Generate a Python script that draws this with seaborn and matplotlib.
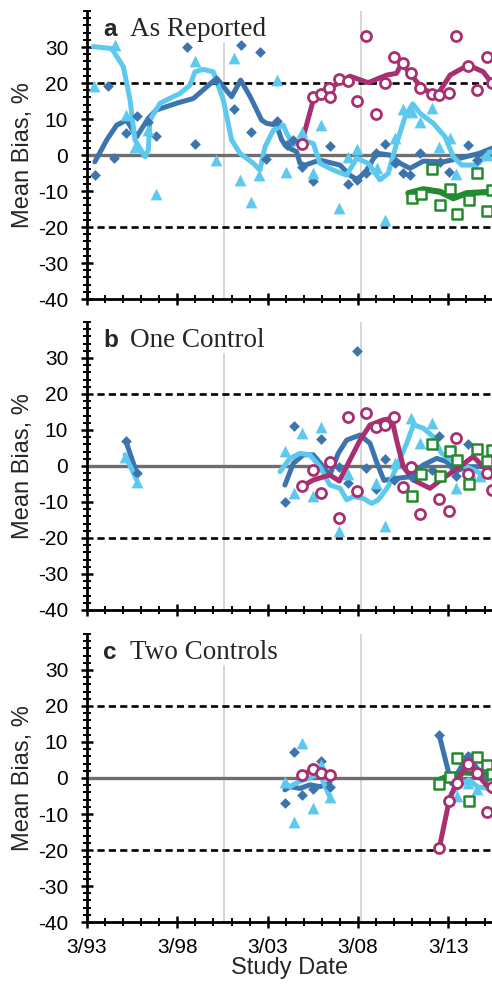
import matplotlib
matplotlib.use("Agg")
import matplotlib.pyplot as plt
import seaborn as sns
from matplotlib.ticker import MultipleLocator, FixedLocator

# ---------------- data (decimal years, mean bias %) ----------------
# Panel a: As Reported
A_db_x = [1993.61, 1994.35, 1994.66, 1995.32, 1995.92, 1996.56, 1996.99, 1998.72, 1999.14, 2000.30,
          2001.30, 2001.67, 2002.23, 2002.74, 2003.07, 2003.66, 2004.22, 2004.58, 2005.05, 2005.69,
          2006.61, 2007.63, 2008.13, 2008.61, 2009.16, 2009.66, 2010.21, 2010.67, 2011.04, 2011.59,
          2012.70, 2013.22, 2014.27, 2014.73]
A_db_y = [-5.6, 19.2, -0.9, 6.1, 10.9, 9.3, 5.3, 30.1, 3.2, 20.8,
          12.7, 30.7, 6.3, 28.7, -1.2, 9.4, 2.8, 4.3, -3.2, -7.2,
          2.5, -8.1, -6.9, -4.9, 0.5, 3.0, -2.3, -5.1, -5.6, 0.5,
          -1.9, -4.6, 2.8, -1.4]
A_dbl_x = [1993.6, 1994.26, 1994.81, 1995.36, 1995.92, 1996.56, 1997.0, 1998.2, 1999.05, 2000.34,
           2001.17, 2001.67, 2002.2, 2002.83, 2003.11, 2003.66, 2003.94, 2004.22, 2004.77, 2004.95,
           2005.23, 2006.06, 2007.17, 2007.72, 2008.13, 2008.64, 2009.2, 2009.93, 2010.5, 2011.04,
           2011.78, 2012.88, 2013.8, 2014.9, 2015.58]
A_dbl_y = [-1.9, 4.2, 8.3, 9.7, 5.1, 10.2, 12.5, 14.5, 15.7, 21.3,
           16.2, 20.8, 16.2, 9.7, 8.8, 8.3, 4.2, 2.3, 0.9, -2.3,
           -2.8, -1.4, -2.8, -5.6, -6.9, -4.2, 0.5, 0.0, -2.3, -3.7,
           -1.7, -1.9, -0.9, 0.5, 1.9]
A_lb_x = [1993.55, 1994.72, 1995.32, 1995.82, 1996.56, 1996.99, 1999.14, 2000.30, 2001.30, 2001.64,
          2002.23, 2002.70, 2003.66, 2004.18, 2005.05, 2005.69, 2006.10, 2007.13, 2007.63, 2008.13,
          2009.20, 2009.66, 2010.21, 2010.67, 2011.13, 2011.59, 2012.24, 2012.66, 2013.25, 2013.59,
          2015.29]
A_lb_y = [19.2, 30.6, 11.1, 2.3, 6.9, -10.9, 26.2, -1.4, 27.0, -6.9,
          -13.1, -5.6, 20.8, -4.6, 6.5, -5.1, 8.3, -14.8, -0.5, 1.6,
          -3.7, -18.1, 4.6, 12.7, 12.0, 9.3, 13.0, 2.3, 4.6, -5.3,
          0.0]
A_lbl_x = [1993.52, 1994.53, 1995.18, 1995.55, 1995.82, 1996.38, 1996.56, 1996.65, 1997.21, 1998.31,
           1998.87, 1999.14, 1999.6, 2000.16, 2000.71, 2001.17, 2001.63, 2002.37, 2002.74, 2003.02,
           2003.48, 2004.03, 2004.22, 2004.58, 2005.05, 2005.69, 2006.06, 2006.8, 2007.54, 2008.09,
           2008.73, 2009.38, 2009.84, 2010.3, 2010.77, 2011.19, 2011.6, 2012.33, 2012.98, 2013.44,
           2013.9, 2014.73, 2015.47]
A_lbl_y = [30.1, 29.6, 24.5, 15.3, 4.2, -0.5, 1.4, 9.7, 14.4, 17.1,
           19.4, 23.1, 23.8, 23.1, 15.3, 4.2, 0.5, -2.3, -4.2, 2.3,
           6.9, 8.3, 6.0, 2.8, 4.2, 3.2, -2.3, -4.2, -5.6, -0.9,
           -2.3, -6.9, -5.1, 3.2, 10.6, 14.2, 11.6, 8.8, 5.1, -0.5,
           -2.8, -2.8, 0.9]
A_mg_x = [2005.05, 2005.69, 2006.10, 2006.58, 2006.61, 2007.13, 2007.63, 2008.13, 2008.61, 2009.16,
          2009.66, 2010.17, 2010.67, 2011.10, 2011.59, 2012.24, 2012.66, 2013.22, 2013.59, 2014.27,
          2014.73, 2015.29, 2015.6]
A_mg_y = [3.1, 16.0, 16.9, 18.5, 16.2, 21.0, 20.6, 15.0, 33.1, 11.3,
          19.9, 27.3, 25.6, 22.7, 18.7, 16.9, 16.7, 17.3, 33.1, 24.8,
          18.2, 27.3, 20.0]
A_mgl_x = [2005.14, 2005.69, 2006.43, 2007.06, 2007.72, 2008.73, 2009.75, 2010.30, 2010.58, 2011.04,
           2011.78, 2012.61, 2013.26, 2014.27, 2015.1, 2015.58]
A_mgl_y = [5.1, 15.3, 18.1, 19.9, 21.9, 20.1, 22.2, 22.7, 25.5, 22.7,
           18.1, 17.1, 22.2, 25.0, 23.1, 19.9]
A_gr_x = [2011.13, 2011.63, 2012.24, 2012.70, 2013.25, 2013.63, 2014.31, 2014.73, 2015.29, 2015.6]
A_gr_y = [-11.8, -10.9, -3.9, -13.9, -9.4, -16.4, -12.5, -4.9, -15.5, -9.7]
A_grl_x = [2010.95, 2011.78, 2012.70, 2013.44, 2014.18, 2015.58]
A_grl_y = [-10.6, -9.5, -10.2, -12.0, -10.6, -10.2]

# Panel b: One Control
B_db_x = [1995.32, 1995.92, 2004.12, 2004.62, 2006.10, 2007.13, 2007.63, 2008.13, 2008.61, 2009.16,
          2009.66, 2010.17, 2011.13, 2012.24, 2012.66, 2013.59, 2014.27]
B_db_y = [6.9, -2.0, -9.9, 11.1, 7.5, -0.2, -4.8, 31.8, -0.6, -6.4,
          1.9, -3.9, -3.0, -1.1, 8.3, -2.8, 6.1]
B_dbl1_x = [1995.32, 1995.92]
B_dbl1_y = [6.9, -2.0]
B_dbl2_x = [2004.12, 2004.58, 2005.14, 2005.69, 2006.24, 2006.61, 2007.07, 2007.54, 2008.28, 2008.83,
            2009.2, 2009.6, 2010.2, 2011.04, 2011.78, 2012.52, 2013.07, 2013.53, 2014.18, 2015.58]
B_dbl2_y = [-5.3, 0.7, 3.1, 3.1, -0.2, -2.5, 3.5, 7.2, 8.6, 6.3,
            1.0, -4.0, -3.5, -3.0, 0.3, 2.1, 1.2, -1.6, -0.2, -0.2]
B_lb_x = [1995.27, 1995.92, 2004.12, 2004.62, 2005.05, 2005.69, 2006.10, 2007.13, 2007.63, 2009.16,
          2009.66, 2010.21, 2011.10, 2011.59, 2012.24, 2013.59, 2014.36, 2014.9]
B_lb_y = [2.6, -4.5, 4.2, -7.6, 9.1, -8.3, 10.7, -18.2, -2.2, -4.6,
          -16.6, 0.7, 13.4, 6.3, 12.0, -6.0, -1.6, -2.8]
B_lbl1_x = [1995.27, 1995.92]
B_lbl1_y = [3.1, -3.9]
B_lbl2_x = [2003.85, 2004.4, 2004.95, 2005.5, 2006.06, 2006.61, 2007.17, 2007.54, 2007.9, 2008.46,
            2008.92, 2009.29, 2009.84, 2010.30, 2010.86, 2011.23, 2011.78, 2012.33, 2012.79, 2013.44,
            2014.36, 2015.1, 2015.58]
B_lbl2_y = [-1.6, 2.1, 3.5, 3.1, -0.2, -5.3, -6.2, -9.4, -8.5, -9.0,
            -10.4, -9.4, -5.7, -0.2, 6.3, 11.4, 10.5, 8.1, 3.5, 1.2,
            -0.6, -2.5, -3.4]
B_mg_x = [2005.05, 2005.69, 2006.10, 2006.61, 2007.13, 2007.63, 2008.13, 2008.61, 2009.16, 2009.66,
          2010.17, 2010.67, 2011.10, 2011.59, 2012.66, 2013.22, 2013.59, 2014.27, 2015.29, 2015.6]
B_mg_y = [-5.6, -1.1, -7.4, 1.2, -14.5, 13.5, -6.9, 14.6, 10.9, 11.4,
          13.5, -5.9, -0.2, -13.4, -9.3, -12.4, 7.9, -2.2, -2.0, -6.7]
B_mgl_x = [2005.05, 2005.69, 2006.61, 2007.13, 2007.72, 2008.28, 2008.83, 2009.57, 2010.03, 2010.3,
           2010.67, 2011.23, 2012.15, 2012.88, 2013.8, 2014.54, 2015.1, 2015.58]
B_mgl_y = [-5.7, -3.9, -2.5, -4.2, 1.7, 7.2, 11.4, 12.8, 13.2, 7.2,
           -0.2, -3.9, -6.2, -3.4, -0.2, 2.6, -0.2, -2.0]
B_gr_x = [2011.13, 2011.63, 2012.24, 2012.70, 2013.25, 2013.63, 2014.31, 2014.73, 2015.29, 2015.6]
B_gr_y = [-8.3, -2.2, 6.0, -2.8, 4.2, 1.7, -5.0, 4.6, 1.4, 4.4]

# Panel c: Two Controls
C_db_x = [2004.12, 2004.62, 2005.05, 2005.69, 2006.10, 2006.61, 2012.66, 2014.27, 2015.29]
C_db_y = [-7.0, 7.3, -4.7, -3.1, 4.8, -2.4, 11.9, 6.1, 0.4]
C_dbl1_x = [2004.12, 2004.4, 2004.95, 2005.5, 2006.06, 2006.61]
C_dbl1_y = [-3.3, -2.4, -2.9, -1.9, -2.4, -1.4]
C_dbl2_x = [2012.66, 2013.33, 2014.27, 2014.9, 2015.58]
C_dbl2_y = [11.9, -1.5, 6.4, 1.5, 0.0]
C_lb_x = [2004.12, 2004.62, 2005.05, 2005.69, 2006.10, 2006.61, 2013.63, 2014.27, 2014.73]
C_lb_y = [-1.0, -12.1, 9.8, -8.4, 3.6, -5.2, -5.0, -1.5, -3.0]
C_lbl1_x = [2004.12, 2004.4, 2004.9, 2005.5, 2006.06, 2006.35, 2006.61]
C_lbl1_y = [-1.4, -2.4, -1.0, 0.0, 1.3, -2.4, -5.2]
C_lbl2_x = [2013.3, 2013.8, 2014.3, 2014.8, 2015.58]
C_lbl2_y = [-4.5, -2.0, -0.5, -2.5, -3.0]
C_mg_x = [2005.05, 2005.69, 2006.10, 2006.61, 2012.66, 2013.22, 2013.63, 2014.27, 2014.73, 2015.29, 2015.6]
C_mg_y = [0.8, 2.4, 1.3, 0.8, -19.5, -6.3, -1.3, 3.8, 1.3, -9.4, -2.4]
C_mgl1_x = [2005.05, 2005.69, 2006.10, 2006.61]
C_mgl1_y = [0.8, 2.4, 1.3, 0.8]
C_mgl2_x = [2012.66, 2013.22, 2013.63, 2014.27, 2014.73, 2015.58]
C_mgl2_y = [-19.5, -6.1, -1.0, 4.1, 1.3, -3.8]
C_gr_x = [2012.66, 2013.25, 2013.63, 2014.31, 2014.73, 2015.29, 2015.6]
C_gr_y = [-1.7, 0.4, 5.5, -6.3, 5.9, 3.6, 1.0]
C_grl_x = [2012.6, 2013.2, 2014.0, 2015.58]
C_grl_y = [-0.5, 0.8, 1.4, 1.0]

panel_letters = ["a", "b", "c"]
panel_titles = ["As Reported", "One Control", "Two Controls"]
xtick_pos = [1993.167, 1998.167, 2003.167, 2008.167, 2013.167]
xtick_labels = ["3/93", "3/98", "3/03", "3/08", "3/13"]
vlines_x = [2000.75, 2008.33]

# ---------------- style ----------------
sns.set_style("ticks")
plt.rcParams['font.family'] = ['Liberation Sans', 'DejaVu Sans']

C_DB = "#3c74ad"
C_LB = "#5ec9ee"
C_MG = "#a82f70"
C_GR = "#248a2f"
C_ZERO = "#6e6e6e"
LW = 3.6

fig = plt.figure(figsize=(4.92, 9.84), dpi=100)
left, width, height = 0.1768, 0.8232, 0.2927
bottoms = [0.6961, 0.3801, 0.0630]
axes = [fig.add_axes([left, b, width, height]) for b in bottoms]


def line(ax, x, y, c, lw=LW):
    sns.lineplot(x=x, y=y, ax=ax, sort=False, estimator=None, color=c,
                 linewidth=lw, solid_capstyle="round", solid_joinstyle="round", zorder=3)


def pts(ax, x, y, kind):
    if kind == "db":
        sns.scatterplot(x=x, y=y, ax=ax, marker="D", s=30, color=C_DB, linewidth=0, zorder=4)
    elif kind == "lb":
        sns.scatterplot(x=x, y=y, ax=ax, marker="^", s=72, color=C_LB, linewidth=0, zorder=4)
    elif kind == "mg":
        sns.scatterplot(x=x, y=y, ax=ax, marker="o", s=52, color="white", edgecolor=C_MG,
                        linewidth=2.0, zorder=5)
    elif kind == "gr":
        sns.scatterplot(x=x, y=y, ax=ax, marker="s", s=44, color="white", edgecolor=C_GR,
                        linewidth=1.8, zorder=5)


for i, ax in enumerate(axes):
    ax.set_xlim(1993.167, 2015.58)
    ax.set_ylim(-40, 40)
    ax.axvline(vlines_x[0], ymin=0, ymax=0.89, color="#cfcfcf", lw=1.2, zorder=1)
    ax.axvline(vlines_x[1], color="#cfcfcf", lw=1.2, zorder=1)
    ax.axhline(0, color=C_ZERO, lw=2.4, zorder=2)
    ax.hlines([20, -20], 1993.72, 2015.58, colors="black", lw=1.9,
              linestyles=(0, (2.7, 1.6)), zorder=2)

# panel a
ax = axes[0]
line(ax, A_dbl_x, A_dbl_y, C_DB)
line(ax, A_lbl_x, A_lbl_y, C_LB)
line(ax, A_mgl_x, A_mgl_y, C_MG)
line(ax, A_grl_x, A_grl_y, C_GR, lw=4.4)
pts(ax, A_db_x, A_db_y, "db")
pts(ax, A_lb_x, A_lb_y, "lb")
pts(ax, A_mg_x, A_mg_y, "mg")
pts(ax, A_gr_x, A_gr_y, "gr")

# panel b
ax = axes[1]
line(ax, B_dbl1_x, B_dbl1_y, C_DB)
line(ax, B_dbl2_x, B_dbl2_y, C_DB)
line(ax, B_lbl1_x, B_lbl1_y, C_LB)
line(ax, B_lbl2_x, B_lbl2_y, C_LB)
line(ax, B_mgl_x, B_mgl_y, C_MG)
pts(ax, B_db_x, B_db_y, "db")
pts(ax, B_lb_x, B_lb_y, "lb")
pts(ax, B_mg_x, B_mg_y, "mg")
pts(ax, B_gr_x, B_gr_y, "gr")

# panel c
ax = axes[2]
line(ax, C_dbl1_x, C_dbl1_y, C_DB)
line(ax, C_dbl2_x, C_dbl2_y, C_DB)
line(ax, C_lbl1_x, C_lbl1_y, C_LB)
line(ax, C_lbl2_x, C_lbl2_y, C_LB)
line(ax, C_grl_x, C_grl_y, C_GR)
line(ax, C_mgl1_x, C_mgl1_y, C_MG)
line(ax, C_mgl2_x, C_mgl2_y, C_MG)
pts(ax, C_db_x, C_db_y, "db")
pts(ax, C_lb_x, C_lb_y, "lb")
pts(ax, C_gr_x, C_gr_y, "gr")
pts(ax, C_mg_x, C_mg_y, "mg")

for i, ax in enumerate(axes):
    sns.despine(ax=ax, top=True, right=True)
    for s in ("left", "bottom"):
        ax.spines[s].set_linewidth(2.0)
        ax.spines[s].set_color("black")
    ax.set_yticks([-40, -30, -20, -10, 0, 10, 20, 30])
    ax.set_yticklabels(["-40", "-30", "-20", "-10", "0", "10", "20", "30"])
    ax.yaxis.set_minor_locator(MultipleLocator(2))
    ax.xaxis.set_major_locator(FixedLocator(xtick_pos))
    ax.xaxis.set_minor_locator(FixedLocator([1993.167 + k for k in range(0, 23)]))
    ax.set_xticklabels(xtick_labels if i == 2 else [])
    ax.tick_params(axis="y", which="major", direction="inout", length=9, width=1.8,
                   labelsize=15, pad=9, color="black", labelcolor="black")
    ax.tick_params(axis="x", which="major", direction="inout", length=9, width=1.8,
                   labelsize=15, pad=7, color="black", labelcolor="black")
    ax.tick_params(axis="both", which="minor", direction="inout", length=5.5, width=1.4,
                   color="black")
    ax.set_ylabel("Mean Bias, %", fontsize=17, labelpad=3)
    ax.set_xlabel("Study Date" if i == 2 else "", fontsize=17, labelpad=0)
    ax.text(0.04, 0.913, panel_letters[i], transform=ax.transAxes, fontsize=17.5,
            fontweight="bold", family=["Liberation Sans", "DejaVu Sans"], va="baseline", ha="left",
            zorder=6)
    ax.text(0.106, 0.913, panel_titles[i], transform=ax.transAxes, fontsize=19.5,
            family=["Liberation Serif", "DejaVu Serif"], va="baseline", ha="left", zorder=6)

fig.savefig("out.png", dpi=100)
